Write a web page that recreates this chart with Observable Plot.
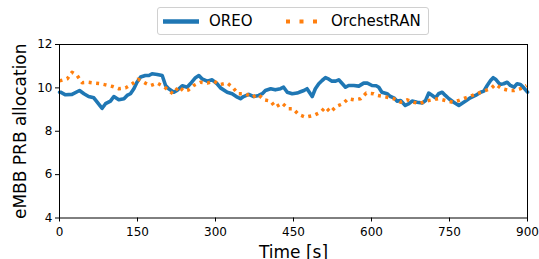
<!DOCTYPE html>
<html>
<head>
<meta charset="utf-8">
<script src="https://cdn.jsdelivr.net/npm/d3@7"></script>
<script src="https://cdn.jsdelivr.net/npm/@observablehq/plot@0.6"></script>
<style>
  html, body { margin: 0; padding: 0; background: #fff; }
  #wrap { position: relative; width: 539px; height: 259px; font-family: "DejaVu Sans", sans-serif; }
  #legend { position: absolute; left: 157px; top: 7px; width: 270px; height: 26px; border: 1px solid #d0d0d0; border-radius: 3px; background: #fff; }
  #legend svg { position: absolute; left: 0; top: 0; }
  #legend span { position: absolute; font-size: 15px; color: #000; top: 4px; line-height: 18px; }
</style>
</head>
<body>
<div id="wrap">
  <div id="chart"></div>
  <div id="legend">
    <svg width="270" height="26">
      <line x1="5" x2="41" y1="13.5" y2="13.5" stroke="#1f77b4" stroke-width="4.5"></line>
      <line x1="128" x2="162" y1="13.5" y2="13.5" stroke="#ff7f0e" stroke-width="4" stroke-dasharray="4,9.5"></line>
    </svg>
    <span id="l1" style="left:51px">OREO</span>
    <span id="l2" style="left:173px">OrchestRAN</span>
  </div>
</div>
<script>
const seriesNames = ["OREO", "OrchestRAN"];
const xTicks = [0, 150, 300, 450, 600, 750, 900];
const yTicks = [4, 6, 8, 10, 12];
const xLabel = "Time [s]";
const yLabel = "eMBB PRB allocation";

const oreoTime = [0, 2, 11.5, 24, 38.5, 47, 56, 66, 72.5, 82, 88.5, 98, 104.5, 114, 124, 130, 136.5, 143, 149, 156, 165, 172, 178, 188, 197.5, 204, 210, 220, 226, 236, 245.5, 252, 261.5, 268, 274, 284, 293.5, 303, 309.6, 322.5, 332, 342, 348, 354, 364, 373.6, 383, 390, 396, 406, 415, 425, 431, 438, 447.5, 457, 463.5, 470, 476, 486, 492, 498.6, 505, 511.5, 518, 524, 531, 537, 544, 550, 556, 566, 575.6, 585, 592, 601, 609, 614, 620, 630, 636.5, 643, 649, 656, 665, 672, 678, 688, 697.5, 704, 710, 717, 723, 729, 736, 742, 749, 758, 768, 781, 790, 800, 810, 816, 822.5, 829, 834, 838.5, 847, 854, 861, 867, 874, 880, 886.5, 893, 900];
const oreoValue = [9.8, 9.8, 9.68, 9.7, 9.88, 9.73, 9.6, 9.54, 9.34, 9.06, 9.27, 9.39, 9.6, 9.45, 9.5, 9.65, 9.73, 9.96, 10.26, 10.5, 10.57, 10.57, 10.65, 10.62, 10.57, 10.11, 9.96, 9.8, 9.88, 10.1, 10.03, 10.2, 10.47, 10.57, 10.42, 10.31, 10.37, 10.19, 10.0, 9.8, 9.73, 9.57, 9.5, 9.6, 9.7, 9.6, 9.65, 9.73, 9.88, 9.96, 9.91, 9.96, 10.03, 9.8, 9.73, 9.76, 9.82, 9.88, 9.96, 9.6, 9.96, 10.19, 10.34, 10.47, 10.4, 10.31, 10.31, 10.37, 10.19, 10.03, 10.11, 10.11, 10.08, 10.22, 10.22, 10.11, 10.1, 10.03, 9.8, 9.73, 9.6, 9.54, 9.39, 9.42, 9.19, 9.27, 9.39, 9.34, 9.3, 9.42, 9.76, 9.65, 9.54, 9.73, 9.8, 9.65, 9.5, 9.34, 9.19, 9.39, 9.54, 9.65, 9.8, 9.85, 10.11, 10.34, 10.47, 10.4, 10.16, 10.19, 10.26, 10.11, 10.03, 10.19, 10.16, 10.0, 9.8];

const orchTime = [0, 15, 24, 34, 43.6, 56, 68, 79, 88.5, 102.5, 114, 127, 140, 151, 165, 175, 188, 200.6, 210, 218, 229.5, 239, 247.5, 258, 271, 284, 297, 308, 322.5, 333, 343.6, 357.7, 370.5, 382, 393, 406, 415, 428, 440, 449, 460, 473, 489, 502, 511.5, 521, 532, 545, 555, 566, 579, 590, 604, 612, 630, 643, 656, 668.6, 681, 692, 704, 717, 729, 742, 756, 768, 781, 794, 806, 816, 829, 838.5, 851, 864, 874, 886.5, 898];
const orchValue = [10.32, 10.42, 10.72, 10.57, 10.24, 10.26, 10.22, 10.19, 10.14, 10.06, 9.96, 10.0, 10.19, 10.4, 10.22, 10.11, 10.22, 10.06, 9.88, 9.73, 10.06, 9.85, 9.9, 10.11, 10.26, 10.22, 10.31, 10.15, 10.22, 10.03, 9.73, 9.73, 9.57, 9.7, 9.45, 9.39, 9.11, 9.3, 9.04, 9.04, 8.77, 8.65, 8.73, 8.88, 9.11, 8.88, 9.14, 9.27, 9.5, 9.45, 9.5, 9.76, 9.73, 9.65, 9.57, 9.5, 9.34, 9.45, 9.34, 9.27, 9.39, 9.45, 9.5, 9.42, 9.34, 9.42, 9.54, 9.65, 9.76, 9.85, 9.96, 10.16, 9.96, 9.88, 9.88, 9.96, 10.11];

const oreo = oreoTime.map((t, i) => ({t, v: oreoValue[i], s: seriesNames[0]}));
const orch = orchTime.map((t, i) => ({t, v: orchValue[i], s: seriesNames[1]}));

const chart = Plot.plot({
  width: 539,
  height: 259,
  marginLeft: 59,
  marginRight: 12,
  marginTop: 44,
  marginBottom: 41.5,
  style: {fontFamily: "DejaVu Sans, sans-serif", fontSize: "12px", color: "#000", background: "#fff"},
  x: {domain: [0, 900]},
  y: {domain: [4, 12]},
  marks: [
    Plot.axisX({ticks: xTicks, tickSize: 4, tickPadding: 5, label: null, fontSize: 12, stroke: "#000", strokeOpacity: 1}),
    Plot.axisY({ticks: yTicks, tickSize: 4, tickPadding: 3, label: null, fontSize: 12, stroke: "#000", strokeOpacity: 1}),
    Plot.line(oreo, {x: "t", y: "v", stroke: "#1f77b4", strokeWidth: 3.6, strokeLinejoin: "round"}),
    Plot.line(orch, {x: "t", y: "v", stroke: "#ff7f0e", strokeWidth: 3.5, strokeDasharray: "3,4.5", strokeLinecap: "butt"}),
    Plot.frame({stroke: "#000", strokeWidth: 1}),
    Plot.text([xLabel], {frameAnchor: "bottom", dy: 40, lineAnchor: "bottom", fontSize: 17, fill: "#000"}),
    Plot.text([yLabel], {frameAnchor: "left", dx: -34, rotate: -90, textAnchor: "middle", lineAnchor: "bottom", fontSize: 17, fill: "#000"})
  ]
});
document.getElementById("chart").appendChild(chart);
</script>
</body>
</html>
